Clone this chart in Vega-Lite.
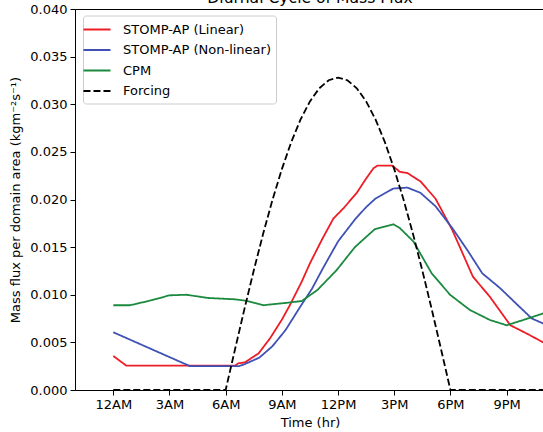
{
  "$schema": "https://vega.github.io/schema/vega-lite/v6.json",
  "width": 470,
  "height": 381,
  "autosize": {"type": "none"},
  "padding": {"left": 75, "top": 9, "right": 0, "bottom": 42},
  "background": "white",
  "title": {"text": "Diurnal Cycle of Mass Flux", "fontSize": 15.6, "fontWeight": "normal", "font": "DejaVu Sans", "color": "#000000", "anchor": "middle", "offset": -4},
  "config": {
    "font": "DejaVu Sans",
    "view": {"stroke": "#000000", "strokeWidth": 1},
    "axis": {"domainColor": "#000000", "tickColor": "#000000", "labelColor": "#000000", "titleColor": "#000000", "tickSize": 5, "labelFontSize": 13, "titleFontSize": 13, "titleFontWeight": "normal", "grid": false, "domainWidth": 1, "tickWidth": 1, "labelFont": "DejaVu Sans", "titleFont": "DejaVu Sans"}
  },
  "data": {"values": [
    {"s": "STOMP-AP (Linear)", "t": 0, "v": 0.00357},
    {"s": "STOMP-AP (Linear)", "t": 0.7, "v": 0.00255},
    {"s": "STOMP-AP (Linear)", "t": 6.5, "v": 0.00255},
    {"s": "STOMP-AP (Linear)", "t": 6.67, "v": 0.0028},
    {"s": "STOMP-AP (Linear)", "t": 7.03, "v": 0.0029},
    {"s": "STOMP-AP (Linear)", "t": 7.76, "v": 0.00385},
    {"s": "STOMP-AP (Linear)", "t": 8.37, "v": 0.00543},
    {"s": "STOMP-AP (Linear)", "t": 8.99, "v": 0.00735},
    {"s": "STOMP-AP (Linear)", "t": 9.43, "v": 0.00892},
    {"s": "STOMP-AP (Linear)", "t": 10.06, "v": 0.01137},
    {"s": "STOMP-AP (Linear)", "t": 10.5, "v": 0.0133},
    {"s": "STOMP-AP (Linear)", "t": 11.13, "v": 0.01575},
    {"s": "STOMP-AP (Linear)", "t": 11.75, "v": 0.018},
    {"s": "STOMP-AP (Linear)", "t": 12.3, "v": 0.0191},
    {"s": "STOMP-AP (Linear)", "t": 13.0, "v": 0.0207},
    {"s": "STOMP-AP (Linear)", "t": 13.5, "v": 0.0222},
    {"s": "STOMP-AP (Linear)", "t": 13.9, "v": 0.0233},
    {"s": "STOMP-AP (Linear)", "t": 14.1, "v": 0.02355},
    {"s": "STOMP-AP (Linear)", "t": 14.9, "v": 0.02355},
    {"s": "STOMP-AP (Linear)", "t": 15.3, "v": 0.0229},
    {"s": "STOMP-AP (Linear)", "t": 15.7, "v": 0.02278},
    {"s": "STOMP-AP (Linear)", "t": 16.4, "v": 0.0219},
    {"s": "STOMP-AP (Linear)", "t": 17.2, "v": 0.0201},
    {"s": "STOMP-AP (Linear)", "t": 18.1, "v": 0.0168},
    {"s": "STOMP-AP (Linear)", "t": 19.2, "v": 0.0119},
    {"s": "STOMP-AP (Linear)", "t": 20.1, "v": 0.0098},
    {"s": "STOMP-AP (Linear)", "t": 21.2, "v": 0.0068},
    {"s": "STOMP-AP (Linear)", "t": 22.1, "v": 0.0059},
    {"s": "STOMP-AP (Linear)", "t": 23.05, "v": 0.0049},
    {"s": "STOMP-AP (Non-linear)", "t": 0, "v": 0.00606},
    {"s": "STOMP-AP (Non-linear)", "t": 4.1, "v": 0.0025},
    {"s": "STOMP-AP (Non-linear)", "t": 6.7, "v": 0.0025},
    {"s": "STOMP-AP (Non-linear)", "t": 7.0, "v": 0.0027},
    {"s": "STOMP-AP (Non-linear)", "t": 7.8, "v": 0.0034},
    {"s": "STOMP-AP (Non-linear)", "t": 8.5, "v": 0.0046},
    {"s": "STOMP-AP (Non-linear)", "t": 9.2, "v": 0.0063},
    {"s": "STOMP-AP (Non-linear)", "t": 10.0, "v": 0.0088},
    {"s": "STOMP-AP (Non-linear)", "t": 10.6, "v": 0.0106},
    {"s": "STOMP-AP (Non-linear)", "t": 11.2, "v": 0.0128},
    {"s": "STOMP-AP (Non-linear)", "t": 12.0, "v": 0.0156},
    {"s": "STOMP-AP (Non-linear)", "t": 12.9, "v": 0.0179},
    {"s": "STOMP-AP (Non-linear)", "t": 13.5, "v": 0.0192},
    {"s": "STOMP-AP (Non-linear)", "t": 14.0, "v": 0.0201},
    {"s": "STOMP-AP (Non-linear)", "t": 14.95, "v": 0.02115},
    {"s": "STOMP-AP (Non-linear)", "t": 15.7, "v": 0.02125},
    {"s": "STOMP-AP (Non-linear)", "t": 16.4, "v": 0.0207},
    {"s": "STOMP-AP (Non-linear)", "t": 17.2, "v": 0.0193},
    {"s": "STOMP-AP (Non-linear)", "t": 18.1, "v": 0.017},
    {"s": "STOMP-AP (Non-linear)", "t": 18.9, "v": 0.0147},
    {"s": "STOMP-AP (Non-linear)", "t": 19.7, "v": 0.01225},
    {"s": "STOMP-AP (Non-linear)", "t": 20.65, "v": 0.0107},
    {"s": "STOMP-AP (Non-linear)", "t": 21.6, "v": 0.0089},
    {"s": "STOMP-AP (Non-linear)", "t": 22.35, "v": 0.0075},
    {"s": "STOMP-AP (Non-linear)", "t": 23.05, "v": 0.0069},
    {"s": "CPM", "t": 0, "v": 0.0089},
    {"s": "CPM", "t": 0.9, "v": 0.0089},
    {"s": "CPM", "t": 2.0, "v": 0.0094},
    {"s": "CPM", "t": 3.0, "v": 0.00994},
    {"s": "CPM", "t": 3.9, "v": 0.01},
    {"s": "CPM", "t": 5.07, "v": 0.00966},
    {"s": "CPM", "t": 6.5, "v": 0.00952},
    {"s": "CPM", "t": 7.07, "v": 0.00938},
    {"s": "CPM", "t": 8.0, "v": 0.0089},
    {"s": "CPM", "t": 9.34, "v": 0.00917},
    {"s": "CPM", "t": 10.06, "v": 0.00934},
    {"s": "CPM", "t": 10.9, "v": 0.0105},
    {"s": "CPM", "t": 11.93, "v": 0.0126},
    {"s": "CPM", "t": 12.9, "v": 0.015},
    {"s": "CPM", "t": 13.97, "v": 0.0169},
    {"s": "CPM", "t": 14.95, "v": 0.0174},
    {"s": "CPM", "t": 15.3, "v": 0.017},
    {"s": "CPM", "t": 16.02, "v": 0.0156},
    {"s": "CPM", "t": 17.0, "v": 0.01225},
    {"s": "CPM", "t": 17.98, "v": 0.01},
    {"s": "CPM", "t": 19.04, "v": 0.0084},
    {"s": "CPM", "t": 20.11, "v": 0.00735},
    {"s": "CPM", "t": 21.0, "v": 0.0068},
    {"s": "CPM", "t": 21.89, "v": 0.00735},
    {"s": "CPM", "t": 23.05, "v": 0.0081},
    {"s": "Forcing", "t": 0, "v": 0},
    {"s": "Forcing", "t": 6, "v": 0},
    {"s": "Forcing", "t": 6.5, "v": 0.00428},
    {"s": "Forcing", "t": 7, "v": 0.00849},
    {"s": "Forcing", "t": 7.5, "v": 0.01255},
    {"s": "Forcing", "t": 8, "v": 0.0164},
    {"s": "Forcing", "t": 8.5, "v": 0.01997},
    {"s": "Forcing", "t": 9, "v": 0.02319},
    {"s": "Forcing", "t": 9.5, "v": 0.02602},
    {"s": "Forcing", "t": 10, "v": 0.02841},
    {"s": "Forcing", "t": 10.5, "v": 0.0303},
    {"s": "Forcing", "t": 11, "v": 0.03168},
    {"s": "Forcing", "t": 11.5, "v": 0.03252},
    {"s": "Forcing", "t": 12, "v": 0.0328},
    {"s": "Forcing", "t": 12.5, "v": 0.03252},
    {"s": "Forcing", "t": 13, "v": 0.03168},
    {"s": "Forcing", "t": 13.5, "v": 0.0303},
    {"s": "Forcing", "t": 14, "v": 0.02841},
    {"s": "Forcing", "t": 14.5, "v": 0.02602},
    {"s": "Forcing", "t": 15, "v": 0.02319},
    {"s": "Forcing", "t": 15.5, "v": 0.01997},
    {"s": "Forcing", "t": 16, "v": 0.0164},
    {"s": "Forcing", "t": 16.5, "v": 0.01255},
    {"s": "Forcing", "t": 17, "v": 0.00849},
    {"s": "Forcing", "t": 17.5, "v": 0.00428},
    {"s": "Forcing", "t": 18, "v": 0},
    {"s": "Forcing", "t": 24, "v": 0}
  ]},
  "mark": {"type": "line", "strokeWidth": 1.8, "clip": true},
  "encoding": {
    "x": {"field": "t", "type": "quantitative", "scale": {"domain": [-2.045, 23.05], "nice": false, "zero": false},
      "axis": {"values": [0, 3, 6, 9, 12, 15, 18, 21], "labelExpr": "datum.value == 0 ? '12AM' : datum.value < 12 ? datum.value + 'AM' : datum.value == 12 ? '12PM' : (datum.value - 12) + 'PM'", "title": "Time (hr)", "labelPadding": 3, "titlePadding": 5}},
    "y": {"field": "v", "type": "quantitative", "scale": {"domain": [0, 0.04], "nice": false},
      "axis": {"values": [0, 0.005, 0.01, 0.015, 0.02, 0.025, 0.03, 0.035, 0.04], "format": ".3f", "title": "Mass flux per domain area (kgm⁻²s⁻¹)", "labelPadding": 3, "titlePadding": 7}},
    "color": {"field": "s", "type": "nominal", "sort": ["STOMP-AP (Linear)", "STOMP-AP (Non-linear)", "CPM", "Forcing"],
      "scale": {"domain": ["STOMP-AP (Linear)", "STOMP-AP (Non-linear)", "CPM", "Forcing"], "range": ["#ee1c25", "#3f51b5", "#1b8a3f", "#000000"]},
      "legend": {"title": null, "orient": "none", "legendX": 8, "legendY": 6.5, "labelFontSize": 13, "labelFont": "DejaVu Sans", "labelColor": "#000000", "symbolType": "M-1.69,0H1.69", "symbolSize": 256, "symbolStrokeWidth": 2, "padding": 5, "rowPadding": 4.5, "labelOffset": 17, "strokeColor": "#cccccc", "fillColor": "white", "cornerRadius": 3, "labelLimit": 300}},
    "strokeDash": {"field": "s", "type": "nominal", "sort": ["STOMP-AP (Linear)", "STOMP-AP (Non-linear)", "CPM", "Forcing"],
      "scale": {"domain": ["STOMP-AP (Linear)", "STOMP-AP (Non-linear)", "CPM", "Forcing"], "range": [[1, 0], [1, 0], [1, 0], [7, 3]]},
      "legend": {"title": null, "orient": "none", "legendX": 8, "legendY": 6.5, "labelFontSize": 13, "labelFont": "DejaVu Sans", "labelColor": "#000000", "symbolType": "M-1.69,0H1.69", "symbolSize": 256, "symbolStrokeWidth": 2, "padding": 5, "rowPadding": 4.5, "labelOffset": 17, "strokeColor": "#cccccc", "fillColor": "white", "cornerRadius": 3, "labelLimit": 300}}
  }
}
